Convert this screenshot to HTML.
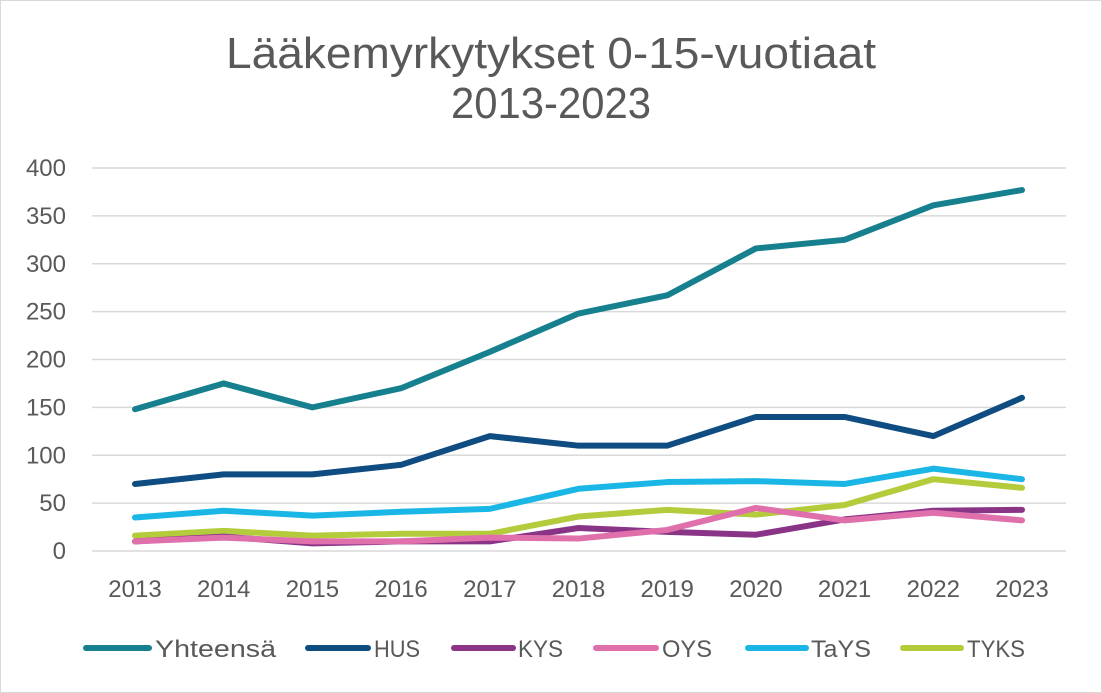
<!DOCTYPE html>
<html><head><meta charset="utf-8"><style>
html,body{margin:0;padding:0;background:#fff}
svg{display:block;font-family:"Liberation Sans",sans-serif}
</style></head><body>
<svg id="s" width="1102" height="693" viewBox="0 0 1102 693">
<rect x="0.5" y="0.5" width="1101" height="692" fill="#fff" stroke="#d9d9d9"/>
<text x="551" y="68" text-anchor="middle" font-size="44" fill="#595959" textLength="650" lengthAdjust="spacingAndGlyphs">Lääkemyrkytykset 0-15-vuotiaat</text>
<text x="551" y="118" text-anchor="middle" font-size="44" fill="#595959" textLength="200" lengthAdjust="spacingAndGlyphs">2013-2023</text>
<g id="g"></g>
</svg>
<script>
var s=document.getElementById('g'),h='';
function Y(v){return 551-v*0.9575}
for(var v=0;v<=400;v+=50){var y=Y(v);h+='<line x1="92" x2="1066" y1="'+y+'" y2="'+y+'" stroke="#d9d9d9" stroke-width="1.5"/>';
h+='<text x="66" y="'+(y+8)+'" text-anchor="end" font-size="24" fill="#595959">'+v+'</text>';}
var X=[];for(var i=0;i<11;i++){X.push(135+88.7*i);h+='<text x="'+X[i]+'" y="597" text-anchor="middle" font-size="24" fill="#595959">'+(2013+i)+'</text>';}
var S=[
['Yhteensä','#16808e',[148,175,150,170,208,248,267,316,325,361,377]],
['HUS','#0e4c82',[70,80,80,90,120,110,110,140,140,120,160]],
['KYS','#8a3487',[10,15,8,10,10,24,20,17,33,42,43]],
['OYS','#e070ac',[10,14,10,10,14,13,22,45,32,40,32]],
['TaYS','#1ab7e6',[35,42,37,41,44,65,72,73,70,86,75]],
['TYKS','#b4cc3c',[16,21,16,18,18,36,43,38,48,75,66]]];
var order=[0,1,4,5,2,3];
order.forEach(function(k){var d=S[k],p=d[2].map(function(v,i){return X[i]+','+Y(v)}).join(' ');
h+='<polyline points="'+p+'" fill="none" stroke="'+d[1]+'" stroke-width="6" stroke-linejoin="round" stroke-linecap="round"/>';});
var L=[[86,149,155,121],[308,368,374,46],[454,513,518,45],[596,656,662,50],[748,806,811,60],[903,961,967,58]];
S.forEach(function(d,i){h+='<line x1="'+L[i][0]+'" x2="'+L[i][1]+'" y1="648" y2="648" stroke="'+d[1]+'" stroke-width="6" stroke-linecap="round"/>';
h+='<text x="'+L[i][2]+'" y="657" font-size="24" fill="#595959" textLength="'+L[i][3]+'" lengthAdjust="spacingAndGlyphs">'+d[0]+'</text>';});
s.innerHTML=h;
</script>
</body></html>
